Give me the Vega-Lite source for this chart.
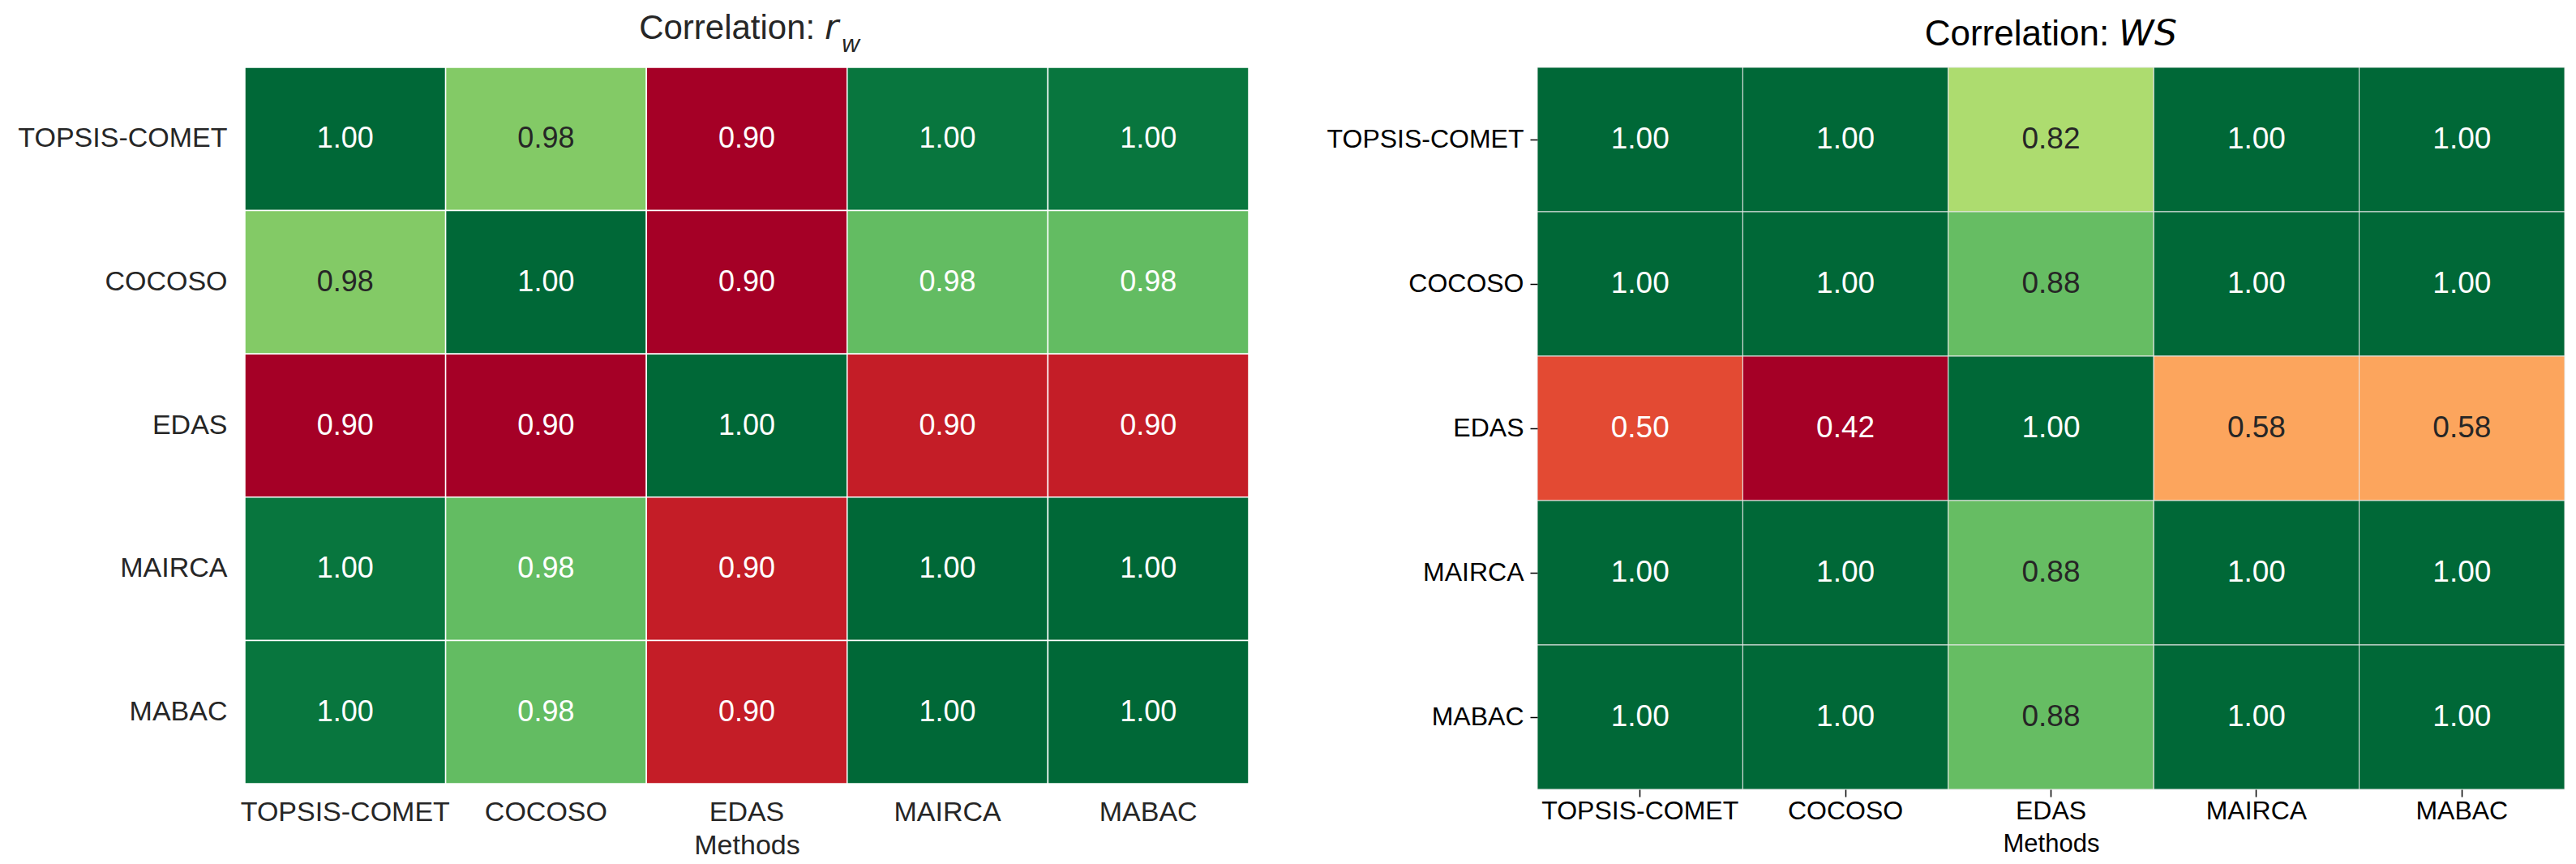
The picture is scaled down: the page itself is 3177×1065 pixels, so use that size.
{
  "$schema": "https://vega.github.io/schema/vega-lite/v6.json",
  "background": "white",
  "padding": {"left": 0, "top": 14, "right": 0, "bottom": 0},
  "spacing": 30,
  "datasets": {
    "rw": [
      {"row": "TOPSIS-COMET", "col": "TOPSIS-COMET", "value": 1.0},
      {"row": "TOPSIS-COMET", "col": "COCOSO", "value": 0.9752},
      {"row": "TOPSIS-COMET", "col": "EDAS", "value": 0.8987},
      {"row": "TOPSIS-COMET", "col": "MAIRCA", "value": 0.997},
      {"row": "TOPSIS-COMET", "col": "MABAC", "value": 0.997},
      {"row": "COCOSO", "col": "TOPSIS-COMET", "value": 0.9752},
      {"row": "COCOSO", "col": "COCOSO", "value": 1.0},
      {"row": "COCOSO", "col": "EDAS", "value": 0.8987},
      {"row": "COCOSO", "col": "MAIRCA", "value": 0.9801},
      {"row": "COCOSO", "col": "MABAC", "value": 0.9801},
      {"row": "EDAS", "col": "TOPSIS-COMET", "value": 0.8987},
      {"row": "EDAS", "col": "COCOSO", "value": 0.8987},
      {"row": "EDAS", "col": "EDAS", "value": 1.0},
      {"row": "EDAS", "col": "MAIRCA", "value": 0.9049},
      {"row": "EDAS", "col": "MABAC", "value": 0.9049},
      {"row": "MAIRCA", "col": "TOPSIS-COMET", "value": 0.997},
      {"row": "MAIRCA", "col": "COCOSO", "value": 0.9801},
      {"row": "MAIRCA", "col": "EDAS", "value": 0.9049},
      {"row": "MAIRCA", "col": "MAIRCA", "value": 1.0},
      {"row": "MAIRCA", "col": "MABAC", "value": 1.0},
      {"row": "MABAC", "col": "TOPSIS-COMET", "value": 0.997},
      {"row": "MABAC", "col": "COCOSO", "value": 0.9801},
      {"row": "MABAC", "col": "EDAS", "value": 0.9049},
      {"row": "MABAC", "col": "MAIRCA", "value": 1.0},
      {"row": "MABAC", "col": "MABAC", "value": 1.0}
    ],
    "ws": [
      {"row": "TOPSIS-COMET", "col": "TOPSIS-COMET", "value": 1.0},
      {"row": "TOPSIS-COMET", "col": "COCOSO", "value": 1.0},
      {"row": "TOPSIS-COMET", "col": "EDAS", "value": 0.8167},
      {"row": "TOPSIS-COMET", "col": "MAIRCA", "value": 1.0},
      {"row": "TOPSIS-COMET", "col": "MABAC", "value": 1.0},
      {"row": "COCOSO", "col": "TOPSIS-COMET", "value": 1.0},
      {"row": "COCOSO", "col": "COCOSO", "value": 1.0},
      {"row": "COCOSO", "col": "EDAS", "value": 0.8833},
      {"row": "COCOSO", "col": "MAIRCA", "value": 1.0},
      {"row": "COCOSO", "col": "MABAC", "value": 1.0},
      {"row": "EDAS", "col": "TOPSIS-COMET", "value": 0.5},
      {"row": "EDAS", "col": "COCOSO", "value": 0.4167},
      {"row": "EDAS", "col": "EDAS", "value": 1.0},
      {"row": "EDAS", "col": "MAIRCA", "value": 0.5833},
      {"row": "EDAS", "col": "MABAC", "value": 0.5833},
      {"row": "MAIRCA", "col": "TOPSIS-COMET", "value": 1.0},
      {"row": "MAIRCA", "col": "COCOSO", "value": 1.0},
      {"row": "MAIRCA", "col": "EDAS", "value": 0.8833},
      {"row": "MAIRCA", "col": "MAIRCA", "value": 1.0},
      {"row": "MAIRCA", "col": "MABAC", "value": 1.0},
      {"row": "MABAC", "col": "TOPSIS-COMET", "value": 1.0},
      {"row": "MABAC", "col": "COCOSO", "value": 1.0},
      {"row": "MABAC", "col": "EDAS", "value": 0.8833},
      {"row": "MABAC", "col": "MAIRCA", "value": 1.0},
      {"row": "MABAC", "col": "MABAC", "value": 1.0}
    ]
  },
  "hconcat": [
    {
      "width": 1238,
      "height": 883,
      "data": {"name": "rw"},
      "title": {
        "text": "Correlation: 𝘳",
        "subtitle": "\u200b\u2003\u2003\u2003\u2003\u2003\u2003\u2003\u2003\u2003\u2009w",
        "subtitleFontStyle": "italic",
        "subtitleFontSize": 30,
        "subtitleColor": "#262626",
        "subtitleFont": "Liberation Sans",
        "subtitlePadding": -17,
        "fontSize": 42,
        "font": "Liberation Sans",
        "fontWeight": "normal",
        "color": "#262626",
        "anchor": "middle",
        "dx": -10,
        "offset": 11
      },
      "encoding": {
        "x": {
          "field": "col", "type": "nominal",
          "sort": ["TOPSIS-COMET", "COCOSO", "EDAS", "MAIRCA", "MABAC"],
          "scale": {"paddingInner": 0, "paddingOuter": 0},
          "title": "Methods",
          "axis": {
            "labelAngle": 0, "domain": false, "ticks": false, "labelLimit": 0,
            "labelFontSize": 34, "labelColor": "#262626", "labelFont": "Liberation Sans",
            "labelPadding": 18,
            "titleFontSize": 34, "titleColor": "#262626", "titleFont": "Liberation Sans",
            "titleFontWeight": "normal", "titlePadding": 7
          }
        },
        "y": {
          "field": "row", "type": "nominal",
          "sort": ["TOPSIS-COMET", "COCOSO", "EDAS", "MAIRCA", "MABAC"],
          "scale": {"paddingInner": 0, "paddingOuter": 0},
          "title": null,
          "axis": {
            "domain": false, "ticks": false, "labelLimit": 0,
            "labelFontSize": 34, "labelColor": "#262626", "labelFont": "Liberation Sans",
            "labelPadding": 22, "minExtent": 302, "maxExtent": 302
          }
        }
      },
      "layer": [
        {
          "mark": {"type": "rect", "stroke": "white", "strokeWidth": 1.5},
          "encoding": {
            "color": {
              "field": "value", "type": "quantitative", "legend": null,
              "scale": {
                "domain": [0.8987, 0.90883, 0.91896, 0.92909, 0.93922, 0.94935, 0.95948, 0.96961, 0.97974, 0.98987, 1.0],
                "range": ["#a50026", "#d73027", "#f46d43", "#fdae61", "#fee08b", "#ffffbf", "#d9ef8b", "#a6d96a", "#66bd63", "#1a9850", "#006837"],
                "interpolate": "rgb"
              }
            }
          }
        },
        {
          "mark": {"type": "text", "fontSize": 36, "font": "Liberation Sans", "baseline": "middle", "align": "center"},
          "encoding": {
            "text": {"field": "value", "type": "quantitative", "format": ".2f"},
            "color": {
              "condition": {"test": "datum.value > 0.95 && datum.value < 0.978", "value": "#262626"},
              "value": "white"
            }
          }
        }
      ]
    },
    {
      "width": 1267,
      "height": 890,
      "data": {"name": "ws"},
      "title": {
        "text": "Correlation: 𝘞𝘚",
        "fontSize": 44,
        "font": "Liberation Sans",
        "fontWeight": "normal",
        "color": "black",
        "anchor": "middle",
        "offset": 18
      },
      "encoding": {
        "x": {
          "field": "col", "type": "nominal",
          "sort": ["TOPSIS-COMET", "COCOSO", "EDAS", "MAIRCA", "MABAC"],
          "scale": {"paddingInner": 0, "paddingOuter": 0},
          "title": "Methods",
          "axis": {
            "labelAngle": 0, "domain": false, "ticks": true, "tickSize": 9, "tickColor": "black", "tickWidth": 1.5, "labelLimit": 0,
            "labelFontSize": 32, "labelColor": "black", "labelFont": "Liberation Sans",
            "labelPadding": 2,
            "titleFontSize": 31, "titleColor": "black", "titleFont": "Liberation Sans",
            "titleFontWeight": "normal", "titlePadding": 10
          }
        },
        "y": {
          "field": "row", "type": "nominal",
          "sort": ["TOPSIS-COMET", "COCOSO", "EDAS", "MAIRCA", "MABAC"],
          "scale": {"paddingInner": 0, "paddingOuter": 0},
          "title": null,
          "axis": {
            "domain": false, "ticks": true, "tickSize": 9, "tickColor": "black", "tickWidth": 1.5, "labelLimit": 0,
            "labelFontSize": 32, "labelColor": "black", "labelFont": "Liberation Sans",
            "labelPadding": 8, "minExtent": 325, "maxExtent": 325
          }
        }
      },
      "layer": [
        {
          "mark": {"type": "rect", "stroke": "#e8e8e8", "strokeWidth": 1},
          "encoding": {
            "color": {
              "field": "value", "type": "quantitative", "legend": null,
              "scale": {
                "domain": [0.4167, 0.475, 0.53334, 0.59167, 0.65, 0.70835, 0.76668, 0.825, 0.88334, 0.94167, 1.0],
                "range": ["#a50026", "#d73027", "#f46d43", "#fdae61", "#fee08b", "#ffffbf", "#d9ef8b", "#a6d96a", "#66bd63", "#1a9850", "#006837"],
                "interpolate": "rgb"
              }
            }
          }
        },
        {
          "mark": {"type": "text", "fontSize": 37, "font": "Liberation Sans", "baseline": "middle", "align": "center"},
          "encoding": {
            "text": {"field": "value", "type": "quantitative", "format": ".2f"},
            "color": {
              "condition": {"test": "datum.value > 0.55 && datum.value < 0.95", "value": "#262626"},
              "value": "white"
            }
          }
        }
      ]
    }
  ],
  "resolve": {"scale": {"color": "independent"}},
  "config": {
    "view": {"stroke": null},
    "font": "Liberation Sans"
  }
}
